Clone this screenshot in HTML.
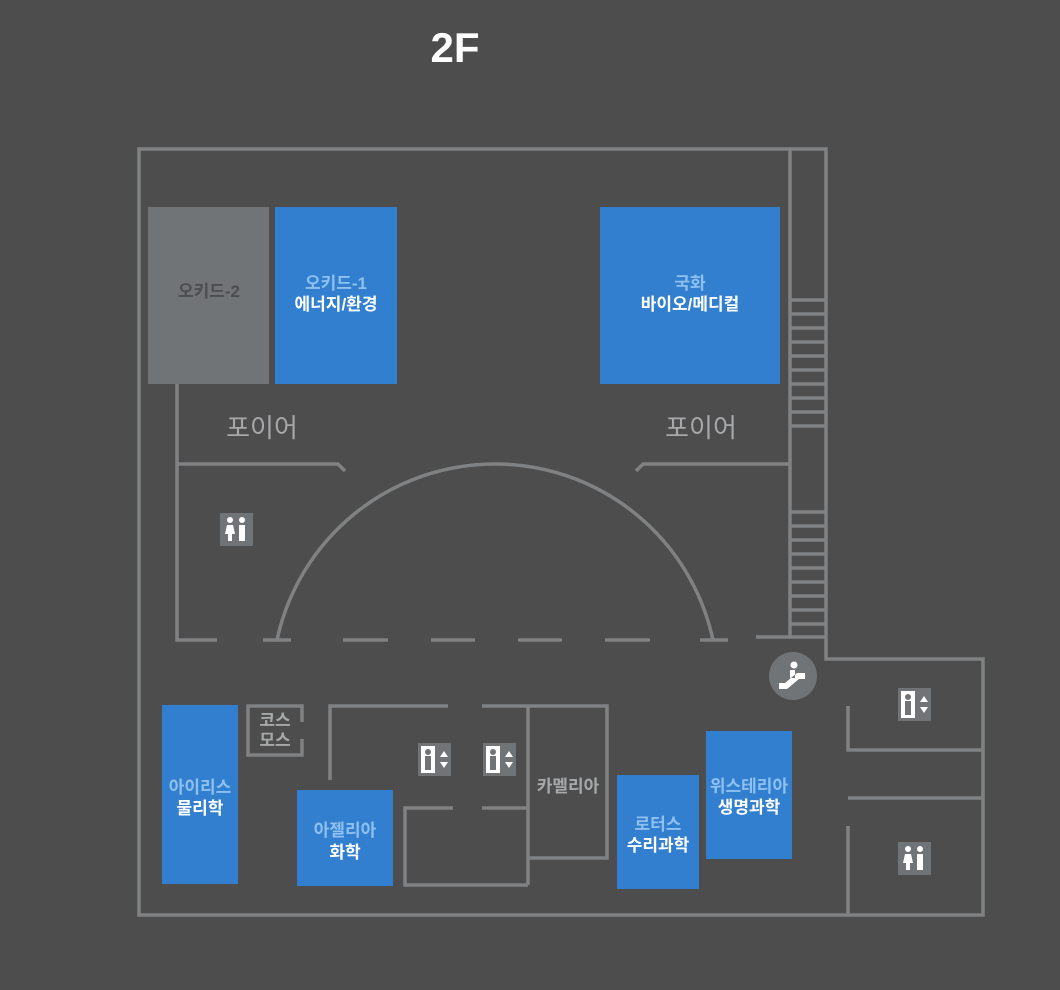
<!DOCTYPE html>
<html><head><meta charset="utf-8"><style>
html,body{margin:0;padding:0;background:#4d4d4d;}
svg{display:block}
text{font-family:"Liberation Sans","Noto Sans CJK KR",sans-serif;}
</style></head><body>
<svg width="1060" height="990" viewBox="0 0 1060 990">
<rect width="1060" height="990" fill="#4d4d4d"/>
<text x="455" y="62" font-size="42" font-weight="bold" fill="#fff" text-anchor="middle">2F</text>
<g stroke="#7f8183" stroke-width="3.5" fill="none">
<polyline points="790,149 139,149 139,915 983,915 983,659 826,659 826,149 790,149 790,637"/>
<line x1="790" y1="300" x2="826" y2="300"/>
<line x1="790" y1="314" x2="826" y2="314"/>
<line x1="790" y1="328" x2="826" y2="328"/>
<line x1="790" y1="342" x2="826" y2="342"/>
<line x1="790" y1="356" x2="826" y2="356"/>
<line x1="790" y1="370" x2="826" y2="370"/>
<line x1="790" y1="384" x2="826" y2="384"/>
<line x1="790" y1="398" x2="826" y2="398"/>
<line x1="790" y1="412" x2="826" y2="412"/>
<line x1="790" y1="426" x2="826" y2="426"/>
<line x1="790" y1="512" x2="826" y2="512"/>
<line x1="790" y1="526" x2="826" y2="526"/>
<line x1="790" y1="540" x2="826" y2="540"/>
<line x1="790" y1="554" x2="826" y2="554"/>
<line x1="790" y1="568" x2="826" y2="568"/>
<line x1="790" y1="582" x2="826" y2="582"/>
<line x1="790" y1="596" x2="826" y2="596"/>
<line x1="790" y1="610" x2="826" y2="610"/>
<line x1="790" y1="624" x2="826" y2="624"/>
<line x1="756" y1="637" x2="826" y2="637"/>
<polyline points="177,384 177,640 217,640"/>
<polyline points="177,464 338,464 345,471"/>
<polyline points="636,471 643,464 790,464"/>
<line x1="263" y1="640" x2="291" y2="640"/>
<line x1="343" y1="640" x2="388" y2="640"/>
<line x1="431" y1="640" x2="475" y2="640"/>
<line x1="518" y1="640" x2="562" y2="640"/>
<line x1="605" y1="640" x2="650" y2="640"/>
<line x1="700" y1="640" x2="728" y2="640"/>
<path d="M277,640 A223,223 0 0 1 713,640"/>
<polyline points="302,722 302,706 248,706 248,755 302,755 302,739"/>
<polyline points="330,780 330,706 448,706"/>
<polyline points="482,706 607,706 607,858 528,858"/>
<line x1="528" y1="706" x2="528" y2="885"/>
<polyline points="453,808 405,808 405,885 528,885"/>
<line x1="482" y1="808" x2="528" y2="808"/>
<polyline points="848,706 848,750 983,750"/>
<line x1="848" y1="798" x2="983" y2="798"/>
<line x1="848" y1="826" x2="848" y2="915"/>
</g>
<rect x="148" y="207" width="121" height="177" fill="#717477"/>
<rect x="275" y="207" width="122" height="177" fill="#317fce"/>
<rect x="600" y="207" width="180" height="177" fill="#317fce"/>
<rect x="162" y="705" width="76" height="179" fill="#317fce"/>
<rect x="297" y="790" width="96" height="96" fill="#317fce"/>
<rect x="617" y="775" width="82" height="114" fill="#317fce"/>
<rect x="706" y="731" width="86" height="128" fill="#317fce"/>
<g font-size="17" font-weight="bold" text-anchor="middle">
<text x="209" y="297" fill="#4d4d4d">오키드-2</text>
<text x="336" y="289" fill="#8ec0f0">오키드-1</text>
<text x="336" y="310" fill="#fff">에너지/환경</text>
<text x="690" y="289" fill="#8ec0f0">국화</text>
<text x="690" y="310" fill="#fff">바이오/메디컬</text>
<text x="200" y="793" fill="#8ec0f0">아이리스</text>
<text x="200" y="814" fill="#fff">물리학</text>
<text x="345" y="836" fill="#8ec0f0">아젤리아</text>
<text x="345" y="858" fill="#fff">화학</text>
<text x="658" y="830" fill="#8ec0f0">로터스</text>
<text x="658" y="851" fill="#fff">수리과학</text>
<text x="749" y="792" fill="#8ec0f0">위스테리아</text>
<text x="749" y="813" fill="#fff">생명과학</text>
<text x="568" y="792" fill="#a6a8aa">카멜리아</text>
<text x="275" y="726" fill="#a6a8aa">코스</text>
<text x="275" y="746" fill="#a6a8aa">모스</text>
</g>
<text x="262" y="437" font-size="26" fill="#a6a8aa" text-anchor="middle">포이어</text>
<text x="701" y="437" font-size="26" fill="#a6a8aa" text-anchor="middle">포이어</text>
<g id="wc"><rect x="220" y="513" width="33" height="33" fill="#717477"/>
<circle cx="230" cy="520" r="3" fill="#fff"/><circle cx="242" cy="520" r="3" fill="#fff"/>
<path d="M227,525 h6 l2,9 h-3 v7 h-4 v-7 h-3z M239,525 h6 v16 h-6z" fill="#fff"/></g>
<use href="#wc" x="678" y="329"/>
<g id="el"><rect x="418" y="743" width="33" height="33" fill="#717477"/>
<rect x="421" y="746" width="14" height="27" fill="#fff"/>
<circle cx="428" cy="752" r="3" fill="#717477"/>
<rect x="425" y="756" width="6" height="14" fill="#717477"/>
<path d="M440,757 l4,-6 l4,6z M440,762 l4,6 l4,-6z" fill="#fff"/></g>
<use href="#el" x="65" y="0"/>
<use href="#el" x="480" y="-55"/>
<circle cx="793" cy="676" r="24" fill="#717477"/>
<circle cx="794" cy="665" r="3.5" fill="#fff"/>
<path d="M779,689 h8 l12,-10 h6 v-6 h-8 l-12,10 h-6z M790,670 h5 v8 h-5z" fill="#fff"/>
</svg>
</body></html>
